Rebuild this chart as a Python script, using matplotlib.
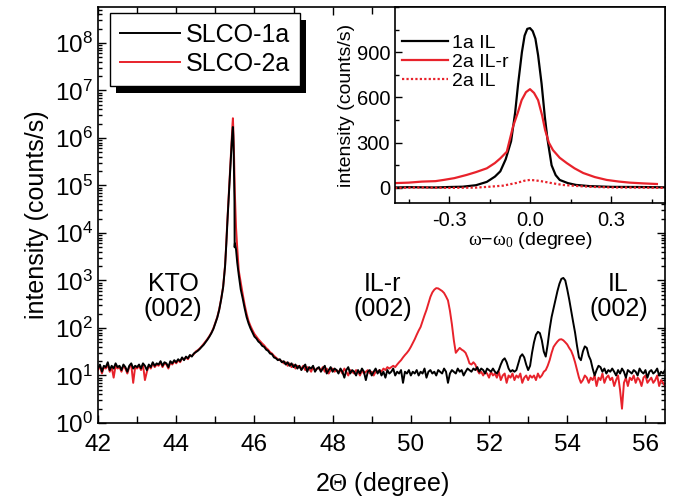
import numpy as np
import matplotlib
matplotlib.use("Agg")
import matplotlib.pyplot as plt
from matplotlib.patches import Rectangle
from matplotlib.ticker import MultipleLocator, LogLocator, NullFormatter

plt.rcParams["font.family"] = ["Liberation Sans", "DejaVu Sans"]
plt.rcParams["mathtext.fontset"] = "custom"
plt.rcParams["mathtext.rm"] = "Liberation Serif"
plt.rcParams["mathtext.it"] = "Liberation Serif:italic"

RED = "#e8222b"

# =========================
# 2theta scan (main panel)
# =========================

# scan grid before and after the KTO substrate peak (0.05 deg steps)
TTH_LOW = np.round(np.linspace(42.00, 45.25, 66), 3)
TTH_HIGH = np.round(np.linspace(45.65, 56.50, 218), 3)

# finer points across the KTO (002) peak
TTH_PEAK = [45.28, 45.30, 45.32, 45.34, 45.36, 45.38, 45.40, 45.42, 45.44,
            45.45, 45.46, 45.47, 45.48, 45.49, 45.495, 45.50, 45.53, 45.56,
            45.60]

SLCO1A_LOW = [14, 17, 12, 16, 15, 19, 13, 16, 14, 18, 15,
              16, 13, 17, 15, 12, 16, 18, 14, 16, 15,
              17, 14, 18, 16, 13, 17, 15, 19, 16, 18,
              17, 20, 16, 19, 18, 15, 20, 18, 21, 19,
              22, 20, 24, 21, 25, 23, 27, 25, 29, 31,
              33, 36, 40, 44, 50, 57, 66, 78, 95, 125,
              165, 240, 400, 720, 2000]
SLCO1A_PEAK = [5600, 12500, 25000, 50000, 100000, 200000, 400000, 800000,
               1400000, 1700000, 1100000, 500000, 160000, 45000, 5000, 6000,
               4500, 2400, 1300]
SLCO1A_HIGH = [650, 420, 260, 170, 125, 98, 80, 66, 60, 52,
               48, 42, 40, 35, 33, 29, 28, 24, 23, 21,
               22, 19, 20, 17, 19, 16, 18, 15, 17, 14,
               16, 13, 15, 17, 12, 15, 14, 16, 12, 14,
               15, 12, 14, 16, 11, 13, 15, 12, 14, 13,
               11, 14, 12, 9, 13, 15, 11, 13, 12, 10,
               13, 11, 14, 12, 8, 12, 13, 10, 12, 14,
               11, 13, 10, 12, 9, 13, 11, 12, 14, 10,
               12, 11, 13, 7, 12, 11, 13, 10, 12, 11,
               13, 10, 12, 11, 14, 9, 12, 13, 11, 12,
               10, 13, 12, 11, 14, 12, 7, 11, 13, 12,
               11, 14, 12, 13, 10, 12, 14, 13, 12, 14,
               13, 15, 12, 14, 13, 11, 14, 13, 12, 14,
               12, 11, 13, 17, 21, 23, 19, 14, 12, 13,
               12, 13, 18, 25, 28, 24, 17, 13, 16, 30,
               50, 72, 83, 78, 55, 32, 25, 45, 95, 170,
               260, 390, 600, 850, 1080, 1130, 1000, 650, 400, 230,
               135, 80, 42, 24, 21, 32, 41, 38, 26, 21,
               14, 10, 13, 16, 15, 12, 14, 11, 13, 12,
               14, 12, 10, 13, 11, 14, 12, 9, 13, 12,
               11, 13, 12, 10, 14, 12, 11, 13, 9, 12,
               13, 11, 12, 14, 10, 12, 11, 13]

SLCO2A_LOW = [13, 16, 11, 15, 14, 17, 12, 15, 9, 16, 14,
              15, 12, 16, 14, 11, 15, 17, 7, 15, 14,
              16, 13, 17, 8, 12, 16, 14, 18, 15, 17,
              16, 19, 15, 18, 17, 14, 19, 17, 20, 18,
              21, 19, 23, 22, 24, 22, 26, 26, 28, 32,
              34, 37, 41, 46, 52, 59, 68, 80, 98, 128,
              170, 250, 410, 740, 2100]
SLCO2A_PEAK = [6000, 13500, 27000, 55000, 110000, 230000, 470000, 950000,
               2000000, 2600000, 1600000, 800000, 400000, 160000, 100000,
               70000, 13000, 5000, 1600]
SLCO2A_HIGH = [900, 520, 310, 200, 140, 110, 90, 75, 66, 58,
               52, 47, 43, 38, 35, 31, 29, 26, 24, 22,
               21, 20, 18, 19, 16, 18, 15, 17, 14, 16,
               15, 14, 16, 13, 15, 14, 12, 15, 13, 14,
               14, 13, 15, 12, 14, 11, 13, 14, 12, 13,
               12, 13, 11, 14, 12, 10, 13, 12, 11, 13,
               12, 10, 13, 11, 12, 13, 11, 12, 10, 12,
               12, 13, 12, 14, 13, 15, 14, 15, 16, 15,
               17, 19, 21, 24, 27, 30, 34, 40, 48, 58,
               72, 88, 105, 140, 185, 240, 330, 450, 560, 640,
               690, 680, 640, 600, 545, 460, 380, 230, 120, 55,
               30, 34, 38, 35, 33, 30, 24, 18, 17, 19,
               17, 13, 11, 12, 10, 12, 11, 9, 12, 10,
               11, 9, 12, 8, 10, 11, 7, 10, 9, 11,
               8, 10, 9, 11, 7, 9, 10, 8, 10, 9,
               10, 8, 11, 9, 10, 12, 13, 16, 21, 30,
               40, 46, 52, 57, 58, 55, 50, 45, 38, 33,
               26, 19, 13, 9, 7, 8, 10, 9, 7, 9,
               8, 10, 6, 9, 8, 11, 7, 9, 10, 8,
               9, 6, 8, 10, 5, 2, 7, 9, 6, 9,
               8, 10, 7, 9, 8, 6, 9, 10, 7, 8,
               9, 7, 8, 10, 6, 8, 7, 6]

PEAK_LABELS = ["KTO\n(002)", "IL-r\n(002)", "IL\n(002)"]
PEAK_LABEL_X = [43.92, 49.28, 55.31]

# =========================
# rocking curves (inset)
# =========================

OMEGA_1A_IL = [-0.50, -0.45, -0.40, -0.35, -0.30, -0.25, -0.20, -0.16, -0.13,
               -0.11, -0.09, -0.07, -0.055, -0.044, -0.03, -0.02, -0.01, 0.0,
               0.01, 0.02, 0.03, 0.043, 0.055, 0.065, 0.08, 0.095, 0.11, 0.14,
               0.17, 0.22, 0.30, 0.40, 0.50]
INT_1A_IL = [3, 5, 4, 3, 6, 8, 18, 40, 75, 110, 190, 310, 500, 690, 900, 1010,
             1055, 1060, 1040, 990, 880, 690, 470, 320, 150, 85, 53, 32, 20, 12,
             7, 6, 4]

OMEGA_2A_ILR = [-0.50, -0.45, -0.40, -0.35, -0.32, -0.28, -0.235, -0.20, -0.16,
                -0.13, -0.11, -0.086, -0.063, -0.045, -0.031, -0.015, 0.0,
                0.015, 0.03, 0.045, 0.056, 0.07, 0.085, 0.11, 0.136, 0.165,
                0.197, 0.24, 0.284, 0.33, 0.37, 0.42, 0.47]
INT_2A_ILR = [32, 35, 42, 45, 53, 65, 86, 105, 130, 165, 196, 240, 406, 500,
              582, 635, 655, 630, 582, 480, 384, 300, 251, 200, 165, 130, 99,
              72, 53, 42, 35, 30, 26]

OMEGA_2A_IL = [-0.50, -0.40, -0.30, -0.20, -0.15, -0.10, -0.05, -0.02, 0.0,
               0.02, 0.04, 0.08, 0.12, 0.18, 0.23, 0.30, 0.40, 0.50]
INT_2A_IL = [0, 3, 0, 2, 8, 15, 33, 48, 53, 50, 45, 32, 20, 12, 7, 3, 2, 0]


def full_scan(low, peak, high):
    x = np.concatenate([TTH_LOW, TTH_PEAK, TTH_HIGH])
    y = np.concatenate([low, peak, high]).astype(float)
    return x, y


fig = plt.figure(figsize=(6.73, 5.04), dpi=100)
W, H = 673.0, 504.0

# ---- main panel ----
ax = fig.add_axes([98 / W, 1 - 423 / H, 567 / W, 416 / H])

x1, y1 = full_scan(SLCO1A_LOW, SLCO1A_PEAK, SLCO1A_HIGH)
x2, y2 = full_scan(SLCO2A_LOW, SLCO2A_PEAK, SLCO2A_HIGH)
l2, = ax.plot(x2, y2, color=RED, lw=1.4, label="SLCO-2a")
l1, = ax.plot(x1, y1, color="black", lw=1.4, label="SLCO-1a")

ax.set_yscale("log")
ax.set_xlim(42, 56.5)
ax.set_ylim(1, 5.7e8)
ax.xaxis.set_major_locator(MultipleLocator(2))
ax.xaxis.set_minor_locator(MultipleLocator(1))
ax.yaxis.set_major_locator(LogLocator(base=10, numticks=20))
ax.yaxis.set_minor_locator(LogLocator(base=10, subs=np.arange(2, 10), numticks=20))
ax.yaxis.set_minor_formatter(NullFormatter())
ax.tick_params(which="both", direction="in", top=True, right=True,
               labelsize=17.5, width=1.0)
ax.tick_params(which="major", length=6)
ax.tick_params(which="minor", length=3)
ax.tick_params(axis="x", which="minor", length=5)
ax.tick_params(axis="x", which="major", pad=8)
for s in ax.spines.values():
    s.set_linewidth(1.2)

ax.set_xlabel(r"2$\mathrm{\Theta}$ (degree)", fontsize=18, labelpad=10)
ax.set_ylabel("intensity (counts/s)", fontsize=18, labelpad=4)

for lab, xp in zip(PEAK_LABELS, PEAK_LABEL_X):
    ax.text(xp, 10 ** 2.67, lab, fontsize=18, ha="center", va="center",
            linespacing=1.05)

# main legend sits on the figure so its shadow can go under it
leg = fig.legend(handles=[l1, l2], loc="upper left",
                 bbox_to_anchor=(110 / W, 1 - 13 / H),
                 bbox_transform=fig.transFigure, borderaxespad=0,
                 fontsize=18, handlelength=2.4, handletextpad=0.25,
                 labelspacing=0.22, borderpad=0.38, fancybox=False,
                 framealpha=1, edgecolor="black")
leg.get_frame().set_linewidth(1.0)
leg.set_zorder(6)

# ---- inset ----
axin = fig.add_axes([395 / W, 1 - 203 / H, 270 / W, 196 / H])
axin.plot(OMEGA_1A_IL, INT_1A_IL, color="black", lw=1.6, label="1a IL")
axin.plot(OMEGA_2A_ILR, INT_2A_ILR, color=RED, lw=1.6, label="2a IL-r")
axin.plot(OMEGA_2A_IL, INT_2A_IL, color=RED, lw=1.6, ls=(0, (1, 1)),
          label="2a IL")
axin.set_xlim(-0.5, 0.5)
axin.set_ylim(-100, 1200)
axin.xaxis.set_minor_locator(MultipleLocator(0.15))
axin.yaxis.set_minor_locator(MultipleLocator(150))
axin.set_xticks([-0.3, 0.0, 0.3])
axin.set_xticklabels(["-0.3", "0.0", "0.3"])
axin.set_yticks([0, 300, 600, 900])
axin.tick_params(which="both", direction="in", labelsize=14.5, width=1.0)
axin.tick_params(which="major", length=5)
axin.tick_params(which="minor", length=3)
axin.tick_params(axis="x", which="major", pad=6)
for s in axin.spines.values():
    s.set_linewidth(1.2)
axin.set_xlabel(r"$\mathrm{\omega}$−$\mathrm{\omega_0}$ (degree)",
                fontsize=14, labelpad=0)
axin.set_ylabel("intensity (counts/s)", fontsize=14, labelpad=1)
axin.legend(loc="upper left", bbox_to_anchor=(400 / W, 1 - 32 / H),
            bbox_transform=fig.transFigure, borderaxespad=0, frameon=False,
            fontsize=14, handlelength=2.35, handletextpad=0.25,
            labelspacing=0.08, borderpad=0.1)

# black drop shadow under the main legend
fig.canvas.draw()
bb = leg.get_frame().get_window_extent()
inv = fig.transFigure.inverted()
sx0, sy0 = inv.transform((bb.x0 + 6, bb.y0 - 7))
sx1, sy1 = inv.transform((bb.x1 + 6, bb.y1 - 7))
fig.add_artist(Rectangle((sx0, sy0), sx1 - sx0, sy1 - sy0,
                         transform=fig.transFigure, facecolor="black",
                         edgecolor="none", zorder=5))

fig.savefig("out.png", dpi=100)
